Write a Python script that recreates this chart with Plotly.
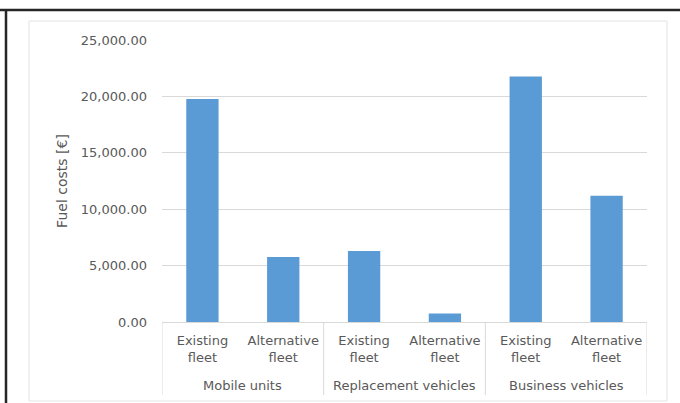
import plotly.graph_objects as go

groups = ["Mobile units", "Replacement vehicles", "Business vehicles"]
subcats = ["Existing<br>fleet", "Alternative<br>fleet"]
existing = [19780, 6300, 21760]
alternative = [5770, 745, 11190]
yticks = [0, 5000, 10000, 15000, 20000, 25000]

values = []
labels = []
for e, a in zip(existing, alternative):
    values += [e, a]
    labels += subcats
xs = list(range(len(values)))

FONT = "DejaVu Sans"
GRAY = "#595959"
W, H = 680, 403
L, R, T, B = 162, 33, 40, 81
pw, ph = W - L - R, H - T - B

def px(x):
    return (x - L) / pw

def py(y):
    return (H - B - y) / ph

fig = go.Figure(go.Bar(x=xs, y=values, marker=dict(color="#5b9bd5", line=dict(width=0)), width=0.4))

shapes = []
# dividers below the axis
n_sub = len(subcats)
for k in range(len(groups) + 1):
    xd = k * n_sub - 0.5
    shapes.append(dict(type="line", xref="x", yref="paper", x0=xd, x1=xd, y0=0, y1=py(395),
                       line=dict(color="#d9d9d9", width=1)))
# light chart frame
shapes.append(dict(type="rect", xref="paper", yref="paper", x0=px(29), x1=px(667), y0=py(401), y1=py(21),
                   line=dict(color="#e3e3e3", width=1), layer="below"))
# dark outer border (top and left)
shapes.append(dict(type="line", xref="paper", yref="paper", x0=px(0), x1=px(680), y0=py(10), y1=py(10),
                   line=dict(color="#262626", width=2.5)))
shapes.append(dict(type="line", xref="paper", yref="paper", x0=px(6), x1=px(6), y0=py(10), y1=py(403),
                   line=dict(color="#262626", width=2.5)))

annotations = []
for i, g in enumerate(groups):
    annotations.append(dict(x=i * n_sub + (n_sub - 1) / 2, y=py(385), xref="x", yref="paper", text=g,
                            showarrow=False, font=dict(family=FONT, size=13, color=GRAY),
                            xanchor="center", yanchor="middle"))

fig.update_layout(
    width=W, height=H,
    margin=dict(l=L, r=R, t=T, b=B, autoexpand=False),
    paper_bgcolor="white", plot_bgcolor="white",
    showlegend=False,
    bargap=0.6,
    shapes=shapes,
    annotations=annotations,
    xaxis=dict(
        tickmode="array", tickvals=xs, ticktext=labels,
        range=[-0.5, len(xs) - 0.5],
        showgrid=False, zeroline=False,
        showline=True, linecolor="#d9d9d9", linewidth=1,
        ticks="", ticklabelstandoff=6,
        tickfont=dict(family=FONT, size=13, color=GRAY),
    ),
    yaxis=dict(
        range=[0, 25000], tickvals=yticks,
        tickformat=",.2f",
        showgrid=True, gridcolor="#d9d9d9", gridwidth=1,
        zeroline=False, showline=False, ticks="",
        ticklabelstandoff=14,
        tickfont=dict(family=FONT, size=13, color=GRAY),
        title=dict(text="Fuel costs [€]", font=dict(family=FONT, size=14, color=GRAY), standoff=9),
    ),
)

fig.write_html("out.html")
